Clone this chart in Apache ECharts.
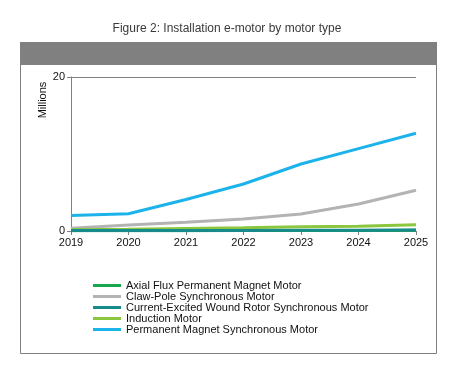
<!DOCTYPE html>
<html>
<head>
<meta charset="utf-8">
<script src="https://cdn.jsdelivr.net/npm/echarts@6/dist/echarts.min.js"></script>
<style>
  html, body { margin: 0; padding: 0; background: #fff; }
  #chart { width: 454px; height: 375px; }
</style>
</head>
<body>
<div id="chart"></div>
<script>
// data
const years = ['2019', '2020', '2021', '2022', '2023', '2024', '2025'];
const axialFlux = [0.02, 0.03, 0.04, 0.05, 0.06, 0.08, 0.1];
const clawPole = [0.35, 0.78, 1.13, 1.55, 2.2, 3.5, 5.3];
const currentExcited = [0.05, 0.06, 0.07, 0.08, 0.09, 0.1, 0.12];
const induction = [0.15, 0.22, 0.32, 0.42, 0.55, 0.62, 0.8];
const pmsm = [2.0, 2.25, 4.1, 6.1, 8.7, 10.7, 12.7];

const seriesDefs = [
  { name: 'Axial Flux Permanent Magnet Motor', data: axialFlux, color: '#17a84b' },
  { name: 'Claw-Pole Synchronous Motor', data: clawPole, color: '#b3b3b3' },
  { name: 'Current-Excited Wound Rotor Synchronous Motor', data: currentExcited, color: '#178a8c' },
  { name: 'Induction Motor', data: induction, color: '#8cc63f' },
  { name: 'Permanent Magnet Synchronous Motor', data: pmsm, color: '#1bb3ea' }
];

const chart = echarts.init(document.getElementById('chart'));
const font = 'Liberation Sans, Arial, sans-serif';

// draw order so the big lines sit under the thin near-zero ones
const drawOrder = [1, 4, 3, 0, 2];

const option = {
  animation: false,
  textStyle: { fontFamily: font },
  title: {
    text: 'Figure 2: Installation e-motor by motor type',
    left: 'center',
    top: 18,
    textStyle: { fontSize: 12, fontWeight: 'normal', color: '#3a3a3a', fontFamily: font }
  },
  graphic: [
    { type: 'rect', shape: { x: 20.5, y: 42.5, width: 416, height: 311 },
      style: { fill: '#fff', stroke: '#7f7f7f', lineWidth: 1 }, z: -10 },
    { type: 'rect', shape: { x: 20, y: 42, width: 417, height: 23 },
      style: { fill: '#808080' }, z: -9 },
    { type: 'text', x: 43, y: 100, rotation: Math.PI / 2,
      style: { text: 'Millions', fontSize: 11, fill: '#111', fontFamily: font,
               align: 'center', verticalAlign: 'middle' } }
  ],
  grid: { left: 71, top: 77, width: 345, height: 154, containLabel: false },
  legend: {
    orient: 'vertical',
    left: 93,
    top: 280,
    padding: 0,
    itemWidth: 28,
    itemHeight: 3,
    itemGap: 0,
    icon: 'rect',
    data: seriesDefs.map(s => s.name),
    textStyle: { fontSize: 11, color: '#111', lineHeight: 11 }
  },
  xAxis: {
    type: 'category',
    data: years,
    boundaryGap: false,
    axisLine: { lineStyle: { color: '#808080', width: 1 } },
    axisTick: { alignWithLabel: true, length: 4, lineStyle: { color: '#808080' } },
    axisLabel: { color: '#111', fontSize: 11, margin: 6 }
  },
  yAxis: {
    type: 'value',
    min: 0,
    max: 20,
    interval: 20,
    axisLine: { show: true, lineStyle: { color: '#808080', width: 1 } },
    axisTick: { show: true, length: 4, lineStyle: { color: '#808080' } },
    axisLabel: { color: '#111', fontSize: 11, margin: 6 },
    splitLine: { show: true, lineStyle: { color: '#808080', width: 1 } }
  },
  series: drawOrder.map((i, k) => ({
    name: seriesDefs[i].name,
    type: 'line',
    data: seriesDefs[i].data,
    symbol: 'none',
    color: seriesDefs[i].color,
    lineStyle: { width: 3, color: seriesDefs[i].color },
    z: 2 + k
  }))
};

chart.setOption(option);
</script>
</body>
</html>
